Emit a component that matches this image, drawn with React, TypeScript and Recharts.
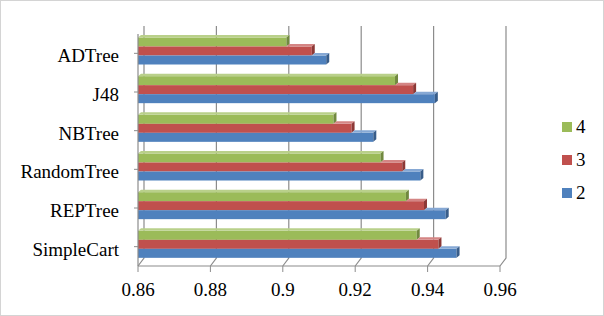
import { BarChart, Bar, XAxis, YAxis, CartesianGrid, Legend } from 'recharts'

const categories = ['ADTree', 'J48', 'NBTree', 'RandomTree', 'REPTree', 'SimpleCart']
const series4 = [0.901, 0.931, 0.914, 0.927, 0.934, 0.937]
const series3 = [0.908, 0.936, 0.919, 0.933, 0.939, 0.943]
const series2 = [0.912, 0.942, 0.925, 0.938, 0.945, 0.948]
const xTicks = [0.86, 0.88, 0.9, 0.92, 0.94, 0.96]

const X_MIN = 0.86
const X_MAX = 0.96
const FONT = '"Liberation Serif", "Times New Roman", serif'
const GRID = '#8c8c8c'

// 3d look: depth offset of the back wall and of the bar tops
const WALL_DX = 6
const WALL_DY = 8
const BAR_DX = 3
const BAR_DY = 2.5
const BAR_LIFT = -2.5

const SERIES = [
  { key: 's4', name: '4', fill: '#9BBB59', side: '#71893F', top: '#B9D08A' },
  { key: 's3', name: '3', fill: '#C0504D', side: '#8C3836', top: '#D48584' },
  { key: 's2', name: '2', fill: '#4F81BD', side: '#385D8A', top: '#86A8D4' },
]

const data = categories.map((name, i) => ({
  name,
  s4: series4[i],
  s3: series3[i],
  s2: series2[i],
}))

function make3DShape(idx: number) {
  return (props: any) => {
    const { x, y, width, height, payload } = props
    const s = SERIES[idx]
    if (!width || width <= 0) return <g />
    const ppu = width / (payload[s.key] - X_MIN)
    const top = y + BAR_LIFT
    const end = x + width
    const prevEnd =
      idx === 0 ? x : Math.min(end, x + (payload[SERIES[idx - 1].key] - X_MIN) * ppu)
    return (
      <g>
        <rect x={x} y={top} width={width} height={height} fill={s.fill} />
        {end > prevEnd && (
          <polygon
            points={`${prevEnd},${top} ${end},${top} ${end + BAR_DX},${top - BAR_DY} ${prevEnd + BAR_DX},${top - BAR_DY}`}
            fill={s.top}
          />
        )}
        <polygon
          points={`${end},${top} ${end + BAR_DX},${top - BAR_DY} ${end + BAR_DX},${top - BAR_DY + height} ${end},${top + height}`}
          fill={s.side}
        />
      </g>
    )
  }
}

function WallLine(props: any) {
  const { x1, y1, y2 } = props
  return (
    <path
      d={`M${x1 + WALL_DX},${y1 - WALL_DY}L${x1 + WALL_DX},${y2 - WALL_DY}L${x1},${y2}`}
      stroke={GRID}
      strokeWidth={1.2}
      fill="none"
    />
  )
}

function CategoryTick(props: any) {
  const { x, y, payload } = props
  return (
    <text x={x} y={y + 2} dy="0.36em" textAnchor="end" fontFamily={FONT} fontSize={19} fill="#000">
      {payload.value}
    </text>
  )
}

function renderLegend() {
  return (
    <div style={{ fontFamily: FONT, fontSize: 19, color: '#000' }}>
      {SERIES.map((s) => (
        <div key={s.key} style={{ height: 33, display: 'flex', alignItems: 'center' }}>
          <span style={{ width: 10, height: 10, background: s.fill, marginLeft: 2, marginRight: 4 }} />
          <span>{s.name}</span>
        </div>
      ))}
    </div>
  )
}

export default function App() {
  return (
    <div style={{ position: 'relative', width: 604, height: 316, background: '#fff' }}>
      <style>{'body{margin:0}'}</style>
      <BarChart
        width={604}
        height={316}
        data={data}
        layout="vertical"
        barSize={9}
        barGap={0}
        margin={{ top: 34, right: 104, bottom: 0, left: 0 }}
      >
        <CartesianGrid horizontal={false} vertical={WallLine} />
        <XAxis
          type="number"
          domain={[X_MIN, X_MAX]}
          ticks={xTicks}
          allowDataOverflow
          height={50}
          tickSize={6}
          tickMargin={11}
          axisLine={{ stroke: GRID, strokeWidth: 1.2 }}
          tickLine={{ stroke: GRID }}
          tick={{ fontSize: 19, fill: '#000', fontFamily: FONT }}
        />
        <YAxis
          type="category"
          dataKey="name"
          width={138}
          tickSize={4}
          tickMargin={15}
          axisLine={{ stroke: GRID, strokeWidth: 1.2 }}
          tickLine={{ stroke: GRID }}
          tick={<CategoryTick />}
        />
        <Legend
          layout="vertical"
          align="center"
          verticalAlign="middle"
          wrapperStyle={{ left: 560, top: 110, width: 44 }}
          content={renderLegend}
        />
        {SERIES.map((s, i) => (
          <Bar
            key={s.key}
            dataKey={s.key}
            name={s.name}
            fill={s.fill}
            shape={make3DShape(i)}
            isAnimationActive={false}
          />
        ))}
      </BarChart>
      <div
        style={{
          position: 'absolute',
          inset: 0,
          border: '1px solid #d4d4d4',
          pointerEvents: 'none',
        }}
      />
    </div>
  )
}
